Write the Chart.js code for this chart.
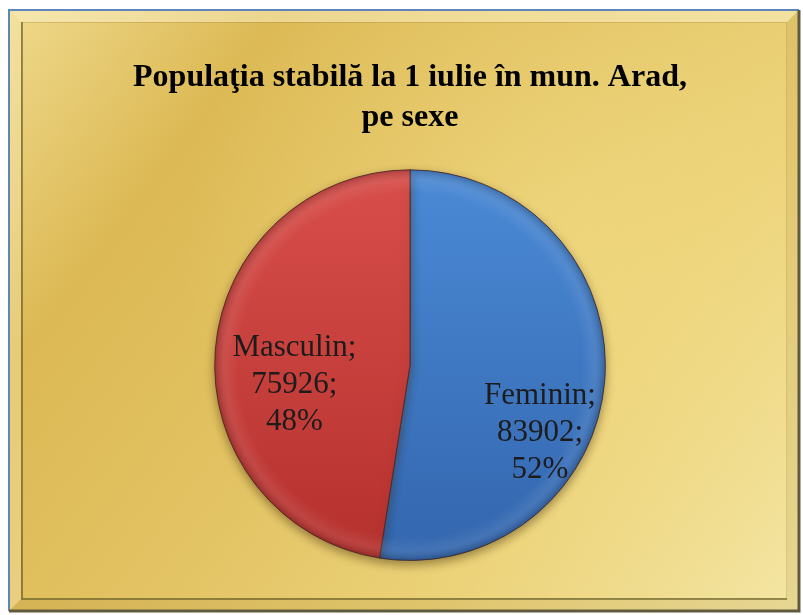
<!DOCTYPE html>
<html lang="ro">
<head>
    <meta charset="UTF-8">
    <title>Populaţia stabilă la 1 iulie în mun. Arad, pe sexe</title>
    <script src="https://cdn.jsdelivr.net/npm/chart.js"></script>
    <style>
        html, body { margin: 0; padding: 0; background: #fff; }
        #wrap { width: 803px; height: 615px; }
    </style>
</head>
<body>
    <div id="wrap"><canvas id="pie-chart"></canvas></div>

    <script>
        // Data
        const categories = ['Feminin', 'Masculin'];
        const population = [83902, 75926];
        const titleLines = ['Populaţia stabilă la 1 iulie în mun. Arad,', 'pe sexe'];

        const serif = "'Liberation Serif', 'Times New Roman', 'DejaVu Serif', serif";

        // slice colours: [top, bottom] of a vertical gradient
        const sliceColors = [['#4b8ad6', '#3366ae'], ['#d84e4a', '#b5312e']];

        // golden background with a bevelled frame
        const framePlugin = {
            id: 'frame',
            beforeDraw(chart) {
                const { ctx, width, height } = chart;
                const x0 = 9, y0 = 10, x1 = width - 4, y1 = height - 4;
                ctx.save();
                ctx.fillStyle = '#fff';
                ctx.fillRect(0, 0, width, height);

                const g = ctx.createLinearGradient(x0, y0, x1, y1);
                g.addColorStop(0, '#efd98c');
                g.addColorStop(0.22, '#dcb954');
                g.addColorStop(0.45, '#e2c262');
                g.addColorStop(0.7, '#ebd177');
                g.addColorStop(1, '#f4e6a4');
                ctx.fillStyle = g;
                ctx.fillRect(x0, y0, x1 - x0, y1 - y0);

                // soft lighter glow right of centre
                const rg = ctx.createRadialGradient(560, 250, 20, 560, 250, 380);
                rg.addColorStop(0, 'rgba(245,225,140,0.45)');
                rg.addColorStop(1, 'rgba(245,225,140,0)');
                ctx.fillStyle = rg;
                ctx.fillRect(x0, y0, x1 - x0, y1 - y0);

                // bevel
                const b = 12;
                ctx.fillStyle = 'rgba(255,248,215,0.45)';
                ctx.beginPath();
                ctx.moveTo(x0, y0); ctx.lineTo(x1, y0); ctx.lineTo(x1 - b, y0 + b); ctx.lineTo(x0 + b, y0 + b);
                ctx.closePath(); ctx.fill();
                ctx.fillStyle = 'rgba(255,245,205,0.3)';
                ctx.beginPath();
                ctx.moveTo(x0, y0); ctx.lineTo(x0 + b, y0 + b); ctx.lineTo(x0 + b, y1 - b); ctx.lineTo(x0, y1);
                ctx.closePath(); ctx.fill();
                ctx.fillStyle = 'rgba(140,110,30,0.12)';
                ctx.beginPath();
                ctx.moveTo(x0, y1); ctx.lineTo(x1, y1); ctx.lineTo(x1 - b, y1 - b); ctx.lineTo(x0 + b, y1 - b);
                ctx.closePath(); ctx.fill();
                ctx.beginPath();
                ctx.moveTo(x1, y0); ctx.lineTo(x1, y1); ctx.lineTo(x1 - b, y1 - b); ctx.lineTo(x1 - b, y0 + b);
                ctx.closePath(); ctx.fill();

                // inner bevel edge: dark on the left, faint elsewhere
                ctx.strokeStyle = 'rgba(150,125,45,0.3)';
                ctx.lineWidth = 1;
                ctx.strokeRect(x0 + b + 0.5, y0 + b + 0.5, x1 - x0 - 2 * b - 1, y1 - y0 - 2 * b - 1);
                ctx.strokeStyle = 'rgba(105,95,40,0.65)';
                ctx.lineWidth = 2;
                ctx.beginPath();
                ctx.moveTo(x0 + b + 1, y0 + b); ctx.lineTo(x0 + b + 1, y1 - b);
                ctx.lineTo(x1 - b, y1 - b);
                ctx.stroke();

                // outer lines
                ctx.lineWidth = 2;
                ctx.strokeStyle = '#5d86bd';
                ctx.beginPath();
                ctx.moveTo(x0, y1); ctx.lineTo(x0, y0); ctx.lineTo(x1, y0);
                ctx.stroke();
                ctx.lineWidth = 3;
                ctx.strokeStyle = '#605b3c';
                ctx.beginPath();
                ctx.moveTo(x1, y0); ctx.lineTo(x1, y1); ctx.lineTo(x0, y1);
                ctx.stroke();
                ctx.restore();
            },
            beforeDatasetsDraw(chart) {
                const ctx = chart.ctx;
                ctx.save();
                ctx.shadowColor = 'rgba(60,40,0,0.45)';
                ctx.shadowBlur = 10;
                ctx.shadowOffsetY = 4;
            },
            afterDatasetsDraw(chart) {
                const ctx = chart.ctx;
                ctx.restore();
                // soft rim shading over the whole pie
                const arc = chart.getDatasetMeta(0).data[0];
                if (!arc) return;
                const p = arc.getProps(['x', 'y', 'outerRadius'], true);
                const rim = ctx.createRadialGradient(p.x, p.y, p.outerRadius * 0.88, p.x, p.y, p.outerRadius);
                rim.addColorStop(0, 'rgba(255,255,255,0)');
                rim.addColorStop(0.55, 'rgba(255,255,255,0.08)');
                rim.addColorStop(1, 'rgba(0,0,0,0.18)');
                ctx.save();
                ctx.fillStyle = rim;
                ctx.beginPath();
                ctx.arc(p.x, p.y, p.outerRadius, 0, Math.PI * 2);
                ctx.fill();
                ctx.restore();
            }
        };

        // "Name; value; pct%" labels inside the slices
        const sliceLabels = {
            id: 'sliceLabels',
            afterDatasetsDraw(chart, args, opts) {
                const { ctx } = chart;
                const meta = chart.getDatasetMeta(0);
                const values = chart.data.datasets[0].data;
                const total = values.reduce((s, v) => s + v, 0);
                ctx.save();
                ctx.font = opts.size + 'px ' + serif;
                ctx.fillStyle = '#1c1c1c';
                ctx.textAlign = 'center';
                ctx.textBaseline = 'middle';
                meta.data.forEach((arc, i) => {
                    const p = arc.getProps(['x', 'y', 'startAngle', 'endAngle', 'outerRadius'], true);
                    const mid = (p.startAngle + p.endAngle) / 2 + opts.turn[i] * Math.PI / 180;
                    const r = p.outerRadius * opts.dist[i];
                    const cx = p.x + Math.cos(mid) * r;
                    const cy = p.y + Math.sin(mid) * r;
                    const lines = [
                        chart.data.labels[i] + ';',
                        values[i] + ';',
                        Math.round(values[i] / total * 100) + '%'
                    ];
                    lines.forEach((t, k) => {
                        ctx.fillText(t, cx, cy + (k - 1) * opts.lineGap);
                    });
                });
                ctx.restore();
            }
        };

        const ctx = document.getElementById('pie-chart').getContext('2d');
        const pieChart = new Chart(ctx, {
            type: 'pie',
            data: {
                labels: categories,
                datasets: [{
                    data: population,
                    backgroundColor: (c) => {
                        const area = c.chart.chartArea;
                        const col = sliceColors[c.dataIndex % sliceColors.length];
                        if (!area) return col[0];
                        const g = c.chart.ctx.createLinearGradient(0, area.top, 0, area.bottom);
                        g.addColorStop(0, col[0]);
                        g.addColorStop(1, col[1]);
                        return g;
                    },
                    borderColor: 'rgba(70,35,35,0.75)',
                    borderWidth: 1
                }]
            },
            options: {
                responsive: true,
                maintainAspectRatio: false,
                devicePixelRatio: 1,
                animation: false,
                events: [],
                layout: { padding: { top: 0, left: 17, right: 0, bottom: 54 } },
                plugins: {
                    legend: { display: false },
                    tooltip: { enabled: false },
                    title: {
                        display: true,
                        text: titleLines,
                        color: '#000',
                        font: { family: serif, size: 32, weight: 'bold', lineHeight: 1.27 },
                        padding: { top: 57, bottom: 31 }
                    },
                    sliceLabels: {
                        size: 31,
                        lineGap: 37,
                        dist: [0.75, 0.6],
                        turn: [23, -14]
                    }
                }
            },
            plugins: [framePlugin, sliceLabels]
        });
    </script>
</body>
</html>
